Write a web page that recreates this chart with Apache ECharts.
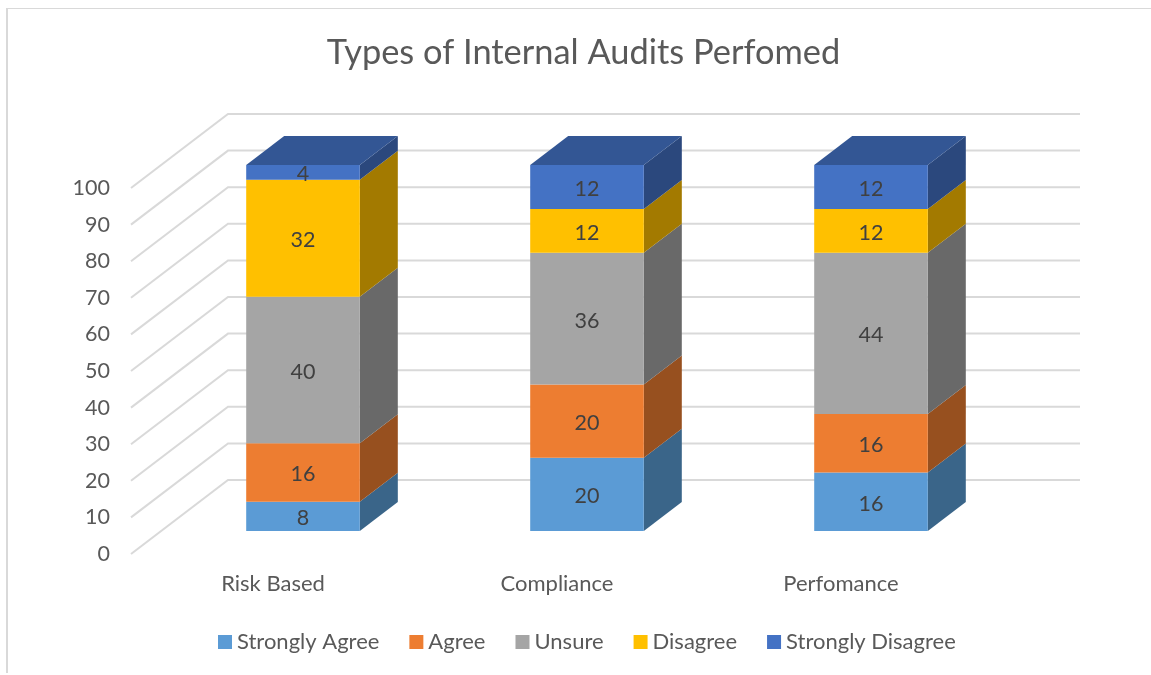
<!DOCTYPE html>
<html>
<head>
<meta charset="utf-8">
<style>
  html, body { margin: 0; padding: 0; background: #fff; }
  #chart { width: 1151px; height: 675px; }
</style>
<script src="https://cdn.jsdelivr.net/npm/echarts@6/dist/echarts.min.js"></script>
</head>
<body>
<div id="chart"></div>
<script>
const categories = ['Risk Based', 'Compliance', 'Perfomance']
const stronglyAgree = [8, 20, 16]
const agree = [16, 20, 16]
const unsure = [40, 36, 44]
const disagree = [32, 12, 12]
const stronglyDisagree = [4, 12, 12]
const yTicks = [0, 10, 20, 30, 40, 50, 60, 70, 80, 90, 100]

const seriesList = [
  { name: 'Strongly Agree', values: stronglyAgree, front: '#5b9bd5', side: '#3a6589' },
  { name: 'Agree', values: agree, front: '#ed7d31', side: '#97501f' },
  { name: 'Unsure', values: unsure, front: '#a5a5a5', side: '#696969' },
  { name: 'Disagree', values: disagree, front: '#ffc000', side: '#a37a00' },
  { name: 'Strongly Disagree', values: stronglyDisagree, front: '#4472c4', side: '#2b487d', top: '#335694' }
]

// Depth of the fake 3D box, in pixels
const wallDx = 97
const wallDy = 74
const barShiftX = 30
const barShiftY = 23
const barDepthX = 38
const barDepthY = 29

const chart = echarts.init(document.getElementById('chart'))

const renderGridLine = (params, api) => {
  const y = api.coord([0, api.value(0)])[1]
  const left = params.coordSys.x
  const width = params.coordSys.width
  return {
    type: 'polyline',
    silent: true,
    shape: {
      points: [[left, y], [left + wallDx, y - wallDy], [left + wallDx + width, y - wallDy]]
    },
    style: { fill: null, stroke: '#d9d9d9', lineWidth: 2 }
  }
}

const renderBox = (item) => (params, api) => {
  const index = api.value(0)
  const base = api.value(1)
  const size = api.value(2)
  const barWidth = api.size([1, 0])[0] * 0.4
  const x0 = api.coord([index, 0])[0] + barShiftX - barWidth / 2
  const x1 = x0 + barWidth
  const y0 = api.coord([index, base])[1] - barShiftY
  const y1 = api.coord([index, base + size])[1] - barShiftY
  const children = [
    {
      type: 'polygon',
      shape: { points: [[x1, y0], [x1 + barDepthX, y0 - barDepthY], [x1 + barDepthX, y1 - barDepthY], [x1, y1]] },
      style: { fill: item.side }
    },
    {
      type: 'rect',
      shape: { x: x0, y: y1, width: barWidth, height: y0 - y1 },
      style: { fill: item.front }
    }
  ]
  if (item.top) {
    children.push({
      type: 'polygon',
      shape: { points: [[x0, y1], [x1, y1], [x1 + barDepthX, y1 - barDepthY], [x0 + barDepthX, y1 - barDepthY]] },
      style: { fill: item.top }
    })
  }
  children.push({
    type: 'text',
    style: {
      text: String(size),
      x: (x0 + x1) / 2,
      y: (y0 + y1) / 2 + 2,
      align: 'center',
      verticalAlign: 'middle',
      fill: '#404040',
      font: '21.5px Lato'
    }
  })
  return { type: 'group', children }
}

const option = {
  animation: false,
  backgroundColor: '#fff',
  title: {
    text: 'Types of Internal Audits Perfomed',
    left: 578.5,
    top: 31,
    textAlign: 'center',
    textStyle: { fontFamily: 'Lato', fontSize: 34.4, fontWeight: 'normal', color: '#595959' }
  },
  legend: {
    data: seriesList.map(s => s.name),
    left: 213,
    top: 626,
    icon: 'rect',
    itemWidth: 14,
    itemHeight: 14,
    itemGap: 30,
    textStyle: { fontFamily: 'Lato', fontSize: 22, color: '#595959' }
  },
  grid: { left: 131, top: 188, width: 852, height: 366 },
  xAxis: {
    type: 'category',
    data: categories,
    axisLine: { show: false },
    axisTick: { show: false },
    axisLabel: { fontFamily: 'Lato', fontSize: 22, color: '#595959', margin: 19 }
  },
  yAxis: {
    type: 'value',
    min: 0,
    max: 100,
    interval: 10,
    axisLine: { show: false },
    axisTick: { show: false },
    splitLine: { show: false },
    axisLabel: { fontFamily: 'Lato', fontSize: 21.5, color: '#595959', margin: 21, padding: [0, 0, 7, 0] }
  },
  graphic: [
    { type: 'rect', silent: true, shape: { x: 6, y: 8, width: 2, height: 665 }, style: { fill: '#d9d9d9' } },
    { type: 'rect', silent: true, shape: { x: 6, y: 8, width: 1145, height: 1 }, style: { fill: '#d9d9d9' } }
  ],
  series: [
    {
      type: 'custom',
      name: 'gridlines',
      silent: true,
      renderItem: renderGridLine,
      data: yTicks.map(v => [v]),
      encode: { y: 0 },
      z: 1
    },
    ...seriesList.map((item, s) => ({
      type: 'custom',
      name: item.name,
      renderItem: renderBox(item),
      itemStyle: { color: item.front },
      data: item.values.map((v, i) => {
        let base = 0
        for (let k = 0; k < s; k++) base += seriesList[k].values[i]
        return [i, base, v]
      }),
      encode: { x: 0, y: 1 },
      z: 2
    }))
  ]
}

chart.setOption(option)
</script>
</body>
</html>
